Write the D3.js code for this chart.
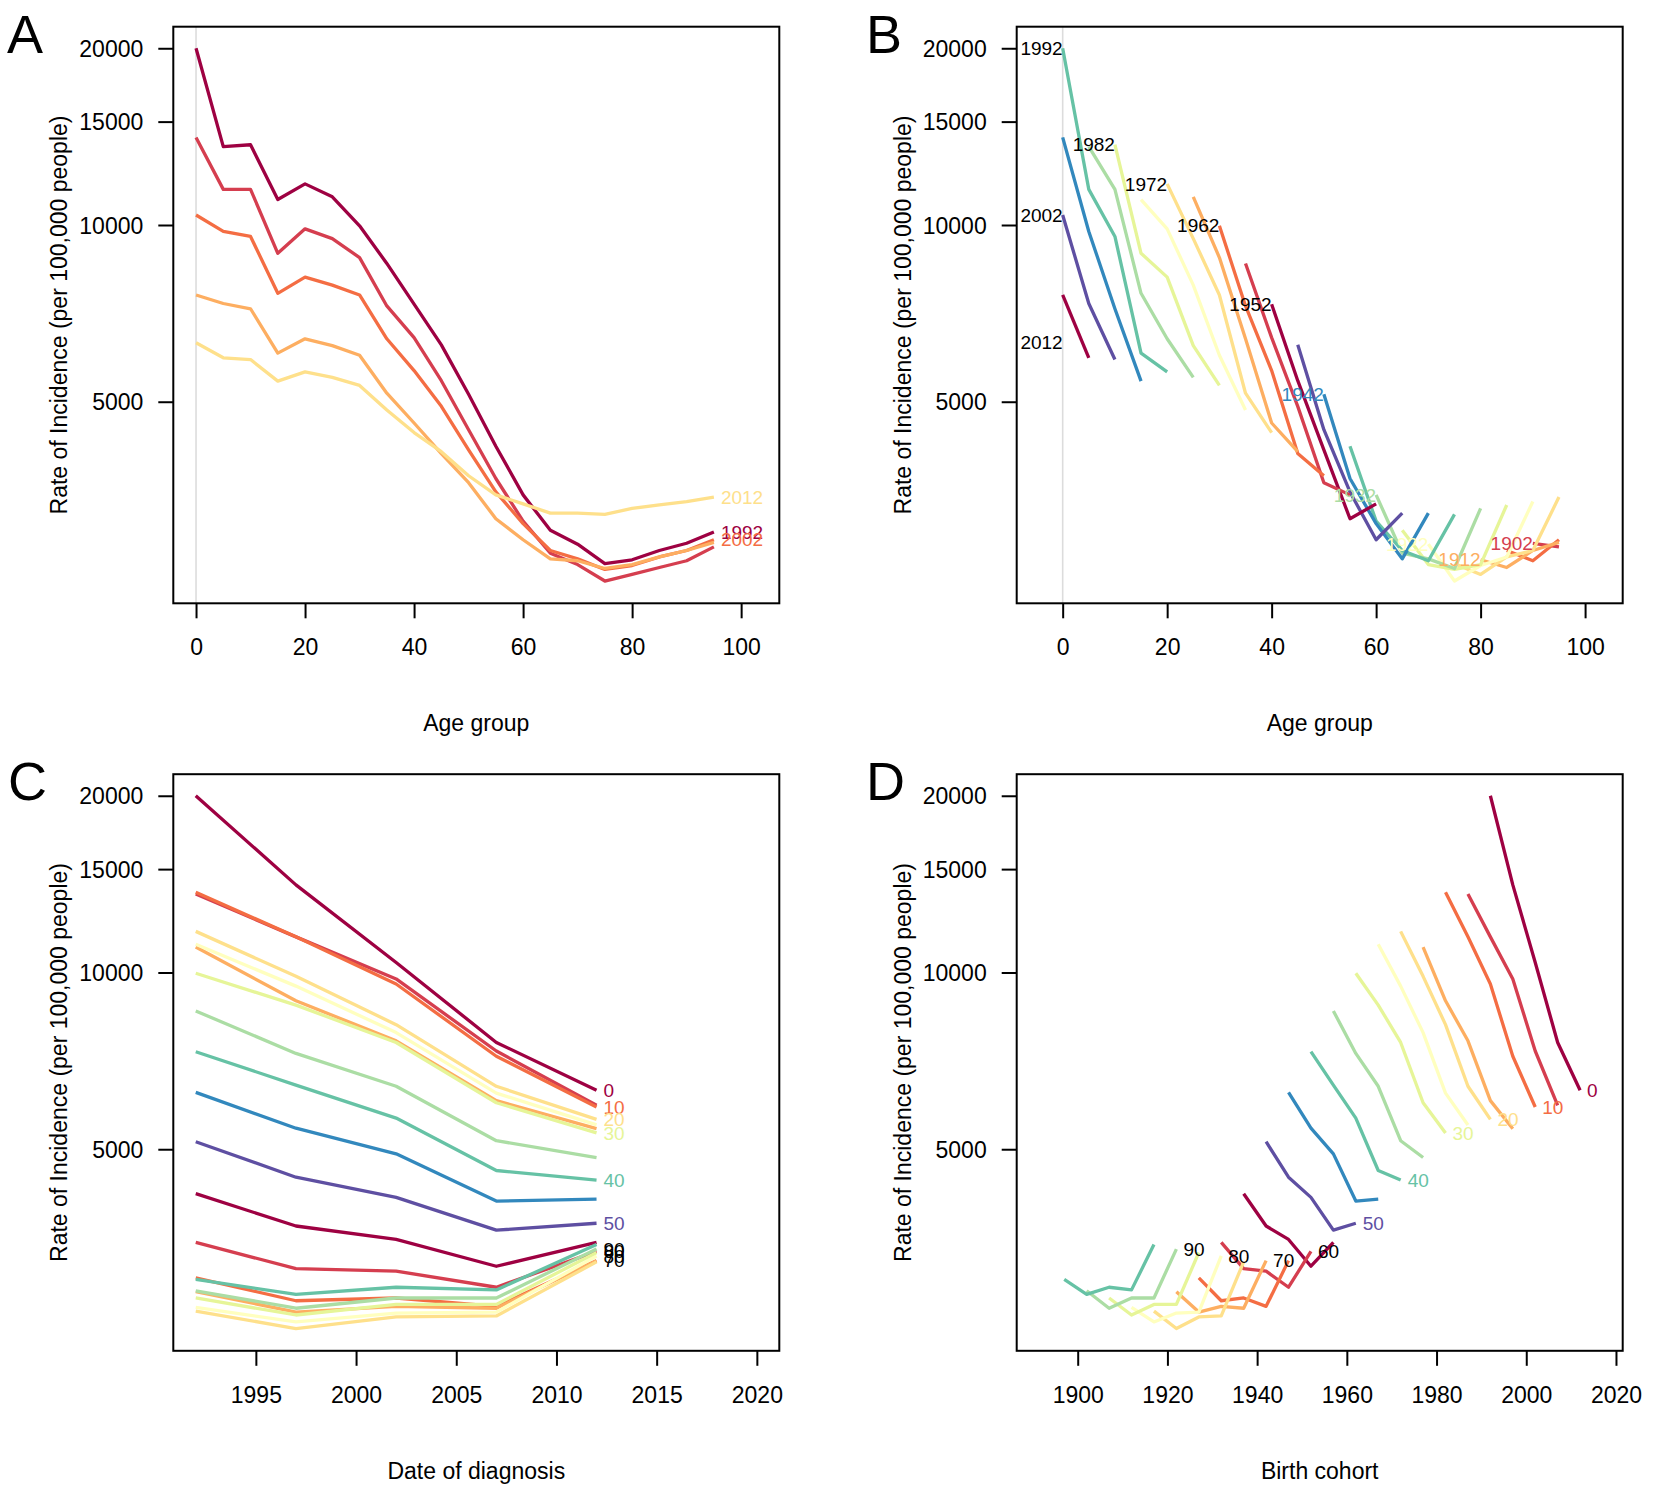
<!DOCTYPE html>
<html><head><meta charset="utf-8">
<script src="https://cdn.jsdelivr.net/npm/d3@7"></script>
<style>
body{margin:0;background:#fff}
svg{display:block}
text{font-family:"Liberation Sans",Arial,Helvetica,sans-serif;fill:#000}
</style>
</head><body>
<svg id="c" width="1654" height="1490"></svg>
<script>
// ---------- data ----------
const ages = [0,5,10,15,20,25,30,35,40,45,50,55,60,65,70,75,80,85,90,95];
const periods = [1992,1997,2002,2007,2012];
const rate1992 = [20000,13600,13700,11050,11750,11170,9970,8600,7330,6250,5150,4200,3470,3020,2860,2650,2690,2790,2870,3000];
const rate1997 = [14100,11500,11500,8950,9850,9480,8800,7280,6430,5430,4480,3700,3130,2760,2640,2475,2540,2610,2680,2830];
const rate2002 = [10400,9750,9560,7650,8150,7900,7600,6400,5650,4910,4140,3510,3100,2790,2700,2590,2630,2720,2790,2910];
const rate2007 = [7600,7350,7200,6050,6400,6230,6000,5170,4600,4080,3640,3160,2910,2700,2680,2600,2640,2720,2790,2880];
const rate2012 = [6300,5940,5900,5420,5620,5500,5330,4840,4430,4110,3740,3470,3350,3230,3230,3215,3290,3335,3380,3440];
const rates = [rate1992,rate1997,rate2002,rate2007,rate2012];
const palette = ["#9E0142","#D53E4F","#F46D43","#FDAE61","#FEE08B","#FFFFBF","#E6F598","#ABDDA4","#66C2A5","#3288BD","#5E4FA2"];
const yTicks = [5000,10000,15000,20000];
const ageTicks = [0,20,40,60,80,100];
const periodTicks = [1995,2000,2005,2010,2015,2020];
const cohortTicks = [1900,1920,1940,1960,1980,2000,2020];
const cohorts = d3.range(1897, 2013, 5);
const yTitle = "Rate of Incidence (per 100,000 people)";

// ---------- drawing ----------
const svg = d3.select("#c");
svg.append("rect").attr("width",1654).attr("height",1490).attr("fill","#fff");

const lineCol = i => palette[i % 11];
const labCol = i => i < 11 ? palette[i] : "#000";
const FS = 23, LFS = 19;

function panel(o){
  const left=o.left, top=o.top, w=606, h=576.6;
  const x = d3.scaleLinear().domain(o.xDomain).range([left, left+w]);
  const y = d3.scaleLog().domain([2268,21765]).range([top+h, top]);
  const g = svg.append("g");
  if (o.zeroLine) {
    g.append("line").attr("x1",x(0)).attr("x2",x(0)).attr("y1",top).attr("y2",top+h)
      .attr("stroke","#dcdcdc").attr("stroke-width",1.6);
  }
  const line = d3.line().x(d=>x(d[0])).y(d=>y(d[1]));
  o.series.forEach(s=>{
    if (s.pts.length>1)
      g.append("path").attr("d",line(s.pts)).attr("fill","none")
        .attr("stroke",s.color).attr("stroke-width",3.3)
        .attr("stroke-linejoin","round").attr("stroke-linecap","butt");
  });
  o.labels.forEach(l=>{
    g.append("text").attr("x",x(l.x)+(l.anchor==="end"?0:7)).attr("y",y(l.y))
      .attr("dy","0.35em").attr("text-anchor",l.anchor).attr("font-size",LFS)
      .style("fill",l.color).text(l.text);
  });
  // frame
  g.append("rect").attr("x",left).attr("y",top).attr("width",w).attr("height",h)
    .attr("fill","none").attr("stroke","#000").attr("stroke-width",2);
  // axes
  const ax = g.append("g").attr("transform",`translate(0,${top+h})`)
    .call(d3.axisBottom(x).tickValues(o.xTicks).tickSize(15).tickFormat(d3.format("d")));
  const ay = g.append("g").attr("transform",`translate(${left},0)`)
    .call(d3.axisLeft(y).tickValues(yTicks).tickSize(15).tickFormat(d3.format("d")));
  [ax,ay].forEach(a=>{
    a.select(".domain").remove();
    a.selectAll(".tick line").attr("stroke","#000").attr("stroke-width",2);
    a.selectAll(".tick text").attr("font-size",FS).style("fill","#000")
      .attr("font-family","'Liberation Sans',Arial,sans-serif");
  });
  ax.selectAll(".tick text").attr("y",44).attr("dy","0.35em");
  ay.selectAll(".tick text").attr("x",-30).attr("dy","0.35em");
  // titles
  g.append("text").attr("x",left+w/2).attr("y",top+h+120).attr("text-anchor","middle")
    .attr("dy","0.35em").attr("font-size",FS).text(o.xTitle);
  g.append("text").attr("transform",`translate(${left-114},${top+h/2}) rotate(-90)`)
    .attr("text-anchor","middle").attr("dy","0.35em").attr("font-size",FS).text(yTitle);
  g.append("text").attr("x",o.letterX).attr("y",top+26)
    .attr("font-size",54).text(o.letter);
}

// Panel A: age on x, one line per period
panel({
  left:173.3, top:26.7, xDomain:[-4.17,107.0], xTicks:ageTicks, xTitle:"Age group",
  letter:"A", letterX:7, zeroLine:true,
  series: periods.map((p,i)=>({color:lineCol(i), pts: ages.map((a,j)=>[a, rates[i][j]])})),
  labels: periods.map((p,i)=>({p,i})).filter(d=>d.i%2===0)
    .map(d=>({text:String(d.p), x:95, y:rates[d.i][ages.length-1], anchor:"start", color:labCol(d.i)}))
});

// Panel B: age on x, one line per birth cohort
const cohortPts = c => {
  const pts=[];
  ages.forEach((a,j)=>{ const pi = periods.indexOf(c + a); if (pi>=0) pts.push([a, rates[pi][j]]); });
  return pts;
};
panel({
  left:1016.7, top:26.7, xDomain:[-8.8,107.2], xTicks:ageTicks, xTitle:"Age group",
  letter:"B", letterX:866, zeroLine:true,
  series: cohorts.map((c,k)=>({color:lineCol(k), pts:cohortPts(c)})),
  labels: cohorts.map((c,k)=>({c,k})).filter(d=>d.k%2===1).map(d=>{
    const pts = cohortPts(d.c);
    return {text:String(d.c), x:pts[0][0], y:pts[0][1], anchor:"end", color:labCol(d.k)};
  })
});

// Panel C: period on x, one line per age group
panel({
  left:173.3, top:774.2, xDomain:[1990.88,2021.12], xTicks:periodTicks, xTitle:"Date of diagnosis",
  letter:"C", letterX:8, zeroLine:false,
  series: ages.map((a,j)=>({color:lineCol(j), pts: periods.map((p,i)=>[p, rates[i][j]])})),
  labels: ages.map((a,j)=>({a,j})).filter(d=>d.j%2===0)
    .map(d=>({text:String(d.a), x:2012, y:rates[4][d.j], anchor:"start", color:labCol(d.j)}))
});

// Panel D: birth cohort on x, one line per age group
panel({
  left:1016.7, top:774.2, xDomain:[1886.4,2021.5], xTicks:cohortTicks, xTitle:"Birth cohort",
  letter:"D", letterX:866, zeroLine:false,
  series: ages.map((a,j)=>({color:lineCol(j), pts: periods.map((p,i)=>[p-a, rates[i][j]])})),
  labels: ages.map((a,j)=>({a,j})).filter(d=>d.j%2===0)
    .map(d=>({text:String(d.a), x:2012-d.a, y:rates[4][d.j], anchor:"start", color:labCol(d.j)}))
});
</script>
</body></html>
